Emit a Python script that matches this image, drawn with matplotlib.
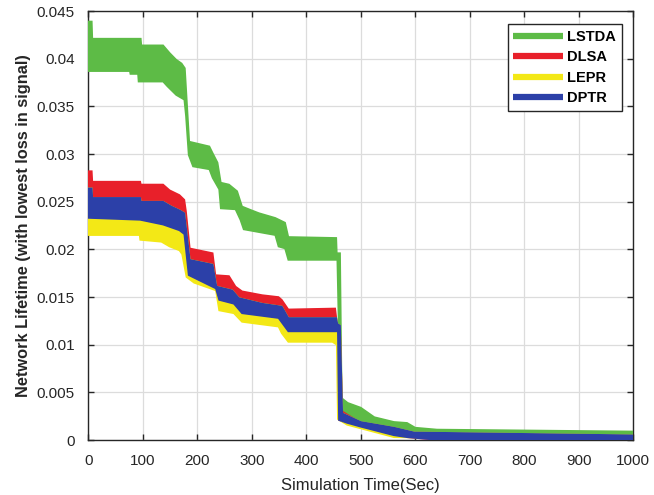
import matplotlib
matplotlib.use("Agg")
import matplotlib.pyplot as plt
from matplotlib.lines import Line2D
import numpy as np

plt.rcParams['font.family'] = ['Liberation Sans', 'DejaVu Sans']

# ---------------- data ----------------
series_names = ["LSTDA", "DLSA", "LEPR", "DPTR"]
series_colors = ["#5dbb46", "#e8202a", "#f3e816", "#2c40a8"]

# LSTDA band edges
lstda_up_t = [0, 6, 7, 96, 97, 137, 149, 161, 171, 177, 185, 222, 228, 237, 243, 258, 273, 282, 295, 313,
              343, 361, 367, 455, 456, 462, 465, 476, 500, 525, 561, 585, 600, 640, 1000]
lstda_up_v = [0.0439, 0.0439, 0.0421, 0.0421, 0.0414, 0.0414, 0.0406, 0.0399, 0.0395, 0.0390, 0.0313,
              0.0308, 0.0301, 0.0291, 0.0270, 0.0268, 0.0261, 0.0245, 0.0242, 0.0238, 0.0233, 0.0228,
              0.0213, 0.0212, 0.0196, 0.0196, 0.0044, 0.0039, 0.0034, 0.0024, 0.0019, 0.0018, 0.0013,
              0.0011, 0.0009]
lstda_lo_t = [0, 76, 77, 91, 92, 137, 145, 161, 176, 179, 184, 192, 222, 228, 240, 243, 270, 279, 285,
              343, 349, 361, 367, 457, 463, 500, 561, 598, 1000]
lstda_lo_v = [0.0387, 0.0387, 0.0384, 0.0384, 0.0376, 0.0376, 0.0371, 0.0362, 0.0357, 0.0340, 0.0299,
              0.0287, 0.0284, 0.0275, 0.0263, 0.0243, 0.0242, 0.0231, 0.0221, 0.0215, 0.0203, 0.0201,
              0.0189, 0.0189, 0.0025, 0.0017, 0.0011, 0.0007, 0.0004]

# DLSA upper edge (its lower edge lies under DPTR)
dlsa_up_t = [0, 6, 7, 95, 96, 137, 149, 167, 176, 179, 186, 228, 233, 258, 270, 282, 319, 349, 355, 367,
             453, 457, 462, 466, 500, 561, 598, 1000]
dlsa_up_v = [0.0282, 0.0282, 0.0271, 0.0271, 0.0268, 0.0268, 0.0262, 0.0257, 0.0252, 0.0240, 0.0201,
             0.0196, 0.0173, 0.0172, 0.0161, 0.0156, 0.0152, 0.0150, 0.0147, 0.0137, 0.0138, 0.0119,
             0.0115, 0.0030, 0.0018, 0.0012, 0.0007, 0.0004]

# LEPR lower edge (its upper edge lies under DPTR)
lepr_lo_t = [0, 94, 95, 134, 149, 167, 172, 180, 194, 234, 240, 267, 282, 349, 355, 367, 448, 456, 458,
             475, 561, 1000]
lepr_lo_v = [0.0215, 0.0215, 0.0210, 0.0208, 0.0203, 0.0199, 0.0195, 0.0171, 0.0165, 0.0157, 0.0136,
             0.0133, 0.0124, 0.0119, 0.0112, 0.0103, 0.0103, 0.0100, 0.0022, 0.0016, 0.0003, 0.0000]

# DPTR band edges
dptr_up_t = [0, 6, 7, 95, 96, 137, 152, 167, 176, 186, 228, 235, 264, 276, 319, 355, 367, 455, 457, 462,
             466, 500, 561, 598, 1000]
dptr_up_v = [0.0264, 0.0264, 0.0254, 0.0254, 0.0250, 0.0250, 0.0245, 0.0241, 0.0238, 0.0189, 0.0184,
             0.0161, 0.0157, 0.0149, 0.0143, 0.0140, 0.0128, 0.0128, 0.0122, 0.0120, 0.0028, 0.0019,
             0.0013, 0.0008, 0.0005]
dptr_lo_t = [0, 95, 137, 167, 176, 184, 234, 240, 267, 282, 349, 367, 458, 460, 475, 500, 561, 585, 645,
             1000]
dptr_lo_v = [0.0233, 0.0231, 0.0226, 0.0220, 0.0216, 0.0173, 0.0159, 0.0147, 0.0143, 0.0133, 0.0128,
             0.0114, 0.0114, 0.0021, 0.0018, 0.0014, 0.0005, 0.0003, 0.0000, 0.0000]

x_ticks = [0, 100, 200, 300, 400, 500, 600, 700, 800, 900, 1000]
y_ticks = [0, 0.005, 0.01, 0.015, 0.02, 0.025, 0.03, 0.035, 0.04, 0.045]
y_ticklabels = ["0", "0.005", "0.01", "0.015", "0.02", "0.025", "0.03", "0.035", "0.04", "0.045"]

# ---------------- figure ----------------
fig = plt.figure(figsize=(6.54, 4.95), dpi=100)
ax = fig.add_axes([0.1353, 0.111, 0.8326, 0.8667])


def band(up_t, up_v, lo_t, lo_v, color):
    xs = np.concatenate([up_t, lo_t[::-1]])
    ys = np.concatenate([up_v, lo_v[::-1]])
    ax.fill(xs, ys, facecolor=color, edgecolor=color, linewidth=1.2, zorder=3)


band(np.array(lstda_up_t), np.array(lstda_up_v), np.array(lstda_lo_t), np.array(lstda_lo_v), series_colors[0])
band(np.array(dlsa_up_t), np.array(dlsa_up_v), np.array(dptr_lo_t), np.array(dptr_lo_v), series_colors[1])
band(np.array(dptr_up_t), np.array(dptr_up_v), np.array(lepr_lo_t), np.array(lepr_lo_v), series_colors[2])
band(np.array(dptr_up_t), np.array(dptr_up_v), np.array(dptr_lo_t), np.array(dptr_lo_v), series_colors[3])

ax.set_xlim(0, 1000)
ax.set_ylim(0, 0.045)
ax.set_xticks(x_ticks)
ax.set_yticks(y_ticks)
ax.set_yticklabels(y_ticklabels)
ax.grid(True, color="#dcdcdc", linewidth=0.9, zorder=0)
ax.set_axisbelow(True)
ax.tick_params(direction="in", length=4, width=1, top=True, right=True,
               labelsize=11, labelcolor="#262626", color="#262626")
ax.tick_params(axis="x", pad=10)
ax.tick_params(axis="y", pad=10)
for s in ax.spines.values():
    s.set_color("#262626")
    s.set_linewidth(1.0)

ax.set_xlabel("Simulation Time(Sec)", fontsize=12, color="#262626", labelpad=7)
ax.set_ylabel("Network Lifetime (with lowest loss in signal)", fontsize=11.8, fontweight="bold",
              color="#262626", labelpad=4)

handles = [Line2D([0], [0], color=c, lw=4.5, solid_capstyle="butt") for c in series_colors]
leg = ax.legend(handles, series_names, loc="upper right", bbox_to_anchor=(0.98, 0.97),
                prop={"size": 10.5, "weight": "bold"}, frameon=True, fancybox=False,
                edgecolor="#262626", handlelength=3.4, handletextpad=0.3, labelspacing=0.45,
                borderpad=0.4, borderaxespad=0.0, framealpha=1)
leg.get_frame().set_linewidth(1.0)
leg.set_zorder(10)

fig.savefig("out.png", dpi=100)
